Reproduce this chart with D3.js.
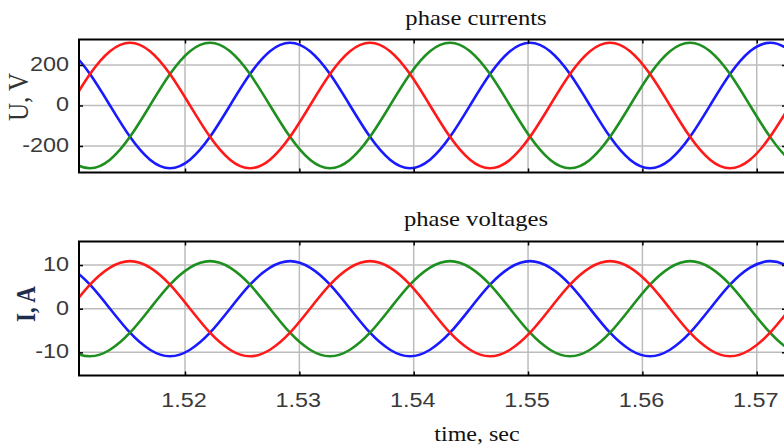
<!DOCTYPE html>
<html>
<head>
<meta charset="utf-8">
<script src="https://cdn.jsdelivr.net/npm/d3@7"></script>
<style>
  html, body { margin: 0; padding: 0; background: #fff; }
  svg { display: block; }
</style>
</head>
<body>
<svg id="chart" width="784" height="446"></svg>
<script>
// ---- data ----
const time = [1.508192, 1.509942, 1.511692, 1.513441, 1.515190, 1.516939, 1.518688, 1.520438, 1.522187,
  1.523936, 1.525685, 1.527434, 1.529184, 1.530933, 1.532682, 1.534431, 1.536180, 1.537930, 1.539679,
  1.541428, 1.543177, 1.544926, 1.546676, 1.548425, 1.550174, 1.551923, 1.553672, 1.555422, 1.557171,
  1.558920, 1.560669, 1.562418, 1.564168, 1.565917, 1.567666, 1.569415, 1.571164, 1.572914, 1.574663];

const voltageRed = [-155, 0, 155, 268, 310, 268, 155, 0, -155, -268, -310, -268, -155,
  0, 155, 268, 310, 268, 155, 0, -155, -268, -310, -268, -155,
  0, 155, 268, 310, 268, 155, 0, -155, -268, -310, -268, -155, 0, 155];
const voltageBlue = [310, 268, 155, 0, -155, -268, -310, -268, -155, 0, 155, 268, 310,
  268, 155, 0, -155, -268, -310, -268, -155, 0, 155, 268, 310,
  268, 155, 0, -155, -268, -310, -268, -155, 0, 155, 268, 310, 268, 155];
const voltageGreen = [-155, -268, -310, -268, -155, 0, 155, 268, 310, 268, 155, 0, -155,
  -268, -310, -268, -155, 0, 155, 268, 310, 268, 155, 0, -155,
  -268, -310, -268, -155, 0, 155, 268, 310, 268, 155, 0, -155, -268, -310];

const currentRed = [-5.5, 0, 5.5, 9.4, 10.9, 9.4, 5.5, 0, -5.5, -9.4, -10.9, -9.4, -5.5,
  0, 5.5, 9.4, 10.9, 9.4, 5.5, 0, -5.5, -9.4, -10.9, -9.4, -5.5,
  0, 5.5, 9.4, 10.9, 9.4, 5.5, 0, -5.5, -9.4, -10.9, -9.4, -5.5, 0, 5.5];
const currentBlue = [10.9, 9.4, 5.5, 0, -5.5, -9.4, -10.9, -9.4, -5.5, 0, 5.5, 9.4, 10.9,
  9.4, 5.5, 0, -5.5, -9.4, -10.9, -9.4, -5.5, 0, 5.5, 9.4, 10.9,
  9.4, 5.5, 0, -5.5, -9.4, -10.9, -9.4, -5.5, 0, 5.5, 9.4, 10.9, 9.4, 5.5];
const currentGreen = [-5.5, -9.4, -10.9, -9.4, -5.5, 0, 5.5, 9.4, 10.9, 9.4, 5.5, 0, -5.5,
  -9.4, -10.9, -9.4, -5.5, 0, 5.5, 9.4, 10.9, 9.4, 5.5, 0, -5.5,
  -9.4, -10.9, -9.4, -5.5, 0, 5.5, 9.4, 10.9, 9.4, 5.5, 0, -5.5, -9.4, -10.9];

const xTicks = [1.52, 1.53, 1.54, 1.55, 1.56, 1.57];
const xTickLabels = ["1.52", "1.53", "1.54", "1.55", "1.56", "1.57"];
const vTicks = [-200, 0, 200];
const vTickLabels = ["-200", "0", "200"];
const iTicks = [-10, 0, 10];
const iTickLabels = ["-10", "0", "10"];

const seriesColors = { red: "#ff1a1a", green: "#1f8f1f", blue: "#1a1aff" };

// ---- layout ----
const svg = d3.select("#chart");
const X0 = 79, X1 = 786;
const x = d3.scaleLinear().domain([1.51073, 1.57256]).range([X0, X1]);

const panels = [
  { top: 39.5, bottom: 172.5, domain: [-331, 326], ticks: vTicks, labels: vTickLabels,
    series: [["blue", voltageBlue], ["green", voltageGreen], ["red", voltageRed]],
    title: "phase currents", titleY: 25, xLabels: false },
  { top: 241.5, bottom: 375.5, domain: [-15.3, 15.4], ticks: iTicks, labels: iTickLabels,
    series: [["blue", currentBlue], ["green", currentGreen], ["red", currentRed]],
    title: "phase voltages", titleY: 226, xLabels: true }
];

const sx = 1.2; // horizontal stretch of the original text

panels.forEach((p, pi) => {
  const y = d3.scaleLinear().domain(p.domain).range([p.bottom, p.top]);
  const g = svg.append("g");

  g.append("clipPath").attr("id", "clip" + pi)
    .append("rect").attr("x", X0).attr("y", p.top).attr("width", X1 - X0).attr("height", p.bottom - p.top);

  // grid
  g.append("g").selectAll("line").data(xTicks).join("line")
    .attr("x1", d => x(d)).attr("x2", d => x(d))
    .attr("y1", p.top).attr("y2", p.bottom)
    .attr("stroke", "#bcbcbc").attr("stroke-width", 1.5);
  g.append("g").selectAll("line").data(p.ticks).join("line")
    .attr("x1", X0).attr("x2", X1)
    .attr("y1", d => y(d)).attr("y2", d => y(d))
    .attr("stroke", "#bcbcbc").attr("stroke-width", 1.5);

  // lines
  const line = d3.line().x((d, i) => x(time[i])).y(d => y(d)).curve(d3.curveNatural);
  const lg = g.append("g").attr("clip-path", `url(#clip${pi})`);
  p.series.forEach(([c, vals]) => {
    lg.append("path").datum(vals)
      .attr("d", line)
      .attr("fill", "none")
      .attr("stroke", seriesColors[c])
      .attr("stroke-width", 2.6)
      .attr("stroke-linejoin", "round");
  });

  // tick marks (inward)
  const axB = g.append("g").attr("transform", `translate(0,${p.bottom})`)
    .call(d3.axisBottom(x).tickValues(xTicks).tickSize(-4).tickFormat(""));
  const axT = g.append("g").attr("transform", `translate(0,${p.top})`)
    .call(d3.axisTop(x).tickValues(xTicks).tickSize(-4).tickFormat(""));
  const axL = g.append("g").attr("transform", `translate(${X0},0)`)
    .call(d3.axisLeft(y).tickValues(p.ticks).tickSize(-4).tickFormat(""));
  const axR = g.append("g").attr("transform", `translate(${X1},0)`)
    .call(d3.axisRight(y).tickValues(p.ticks).tickSize(-4).tickFormat(""));
  [axB, axT, axL, axR].forEach(a => {
    a.select(".domain").remove();
    a.selectAll(".tick line").attr("stroke", "#000").attr("stroke-width", 1.5);
  });

  // frame
  g.append("rect").attr("x", X0).attr("y", p.top)
    .attr("width", X1 - X0).attr("height", p.bottom - p.top)
    .attr("fill", "none").attr("stroke", "#000").attr("stroke-width", 2);

  // y tick labels
  g.append("g").selectAll("text").data(p.ticks).join("text")
    .attr("transform", d => `translate(${X0 - 10},${y(d)}) scale(${sx},1)`)
    .attr("dy", "0.3em")
    .attr("text-anchor", "end")
    .attr("font-family", "'Liberation Sans', Arial, sans-serif")
    .attr("font-size", 19.5)
    .attr("fill", "#3a3a3a")
    .text((d, i) => p.labels[i]);

  // x tick labels
  if (p.xLabels) {
    g.append("g").selectAll("text").data(xTicks).join("text")
      .attr("transform", d => `translate(${x(d) - 1},407) scale(${sx},1)`)
      .attr("text-anchor", "middle")
      .attr("font-family", "'Liberation Sans', Arial, sans-serif")
      .attr("font-size", 19.5)
      .attr("fill", "#3a3a3a")
      .text((d, i) => xTickLabels[i]);
  }

  // title
  svg.append("text")
    .attr("transform", `translate(476,${p.titleY}) scale(${sx},1)`)
    .attr("text-anchor", "middle")
    .attr("font-family", "'Liberation Serif', 'Times New Roman', serif")
    .attr("font-size", 20.5)
    .attr("fill", "#111")
    .text(p.title);
});

// axis labels
svg.append("text")
  .attr("transform", `translate(28,97) scale(${sx},1) rotate(-90)`)
  .attr("text-anchor", "middle")
  .attr("font-family", "'Liberation Serif', 'Times New Roman', serif")
  .attr("font-size", 25)
  .attr("fill", "#333")
  .text("U, V");

svg.append("text")
  .attr("transform", `translate(35,304) scale(${sx},1) rotate(-90)`)
  .attr("text-anchor", "middle")
  .attr("font-family", "'Liberation Serif', 'Times New Roman', serif")
  .attr("font-size", 23)
  .attr("font-weight", "bold")
  .attr("fill", "#1f2d4d")
  .text("I, A");

svg.append("text")
  .attr("transform", `translate(477,441) scale(${sx},1)`)
  .attr("text-anchor", "middle")
  .attr("font-family", "'Liberation Serif', 'Times New Roman', serif")
  .attr("font-size", 20)
  .attr("fill", "#111")
  .text("time, sec");
</script>
</body>
</html>
